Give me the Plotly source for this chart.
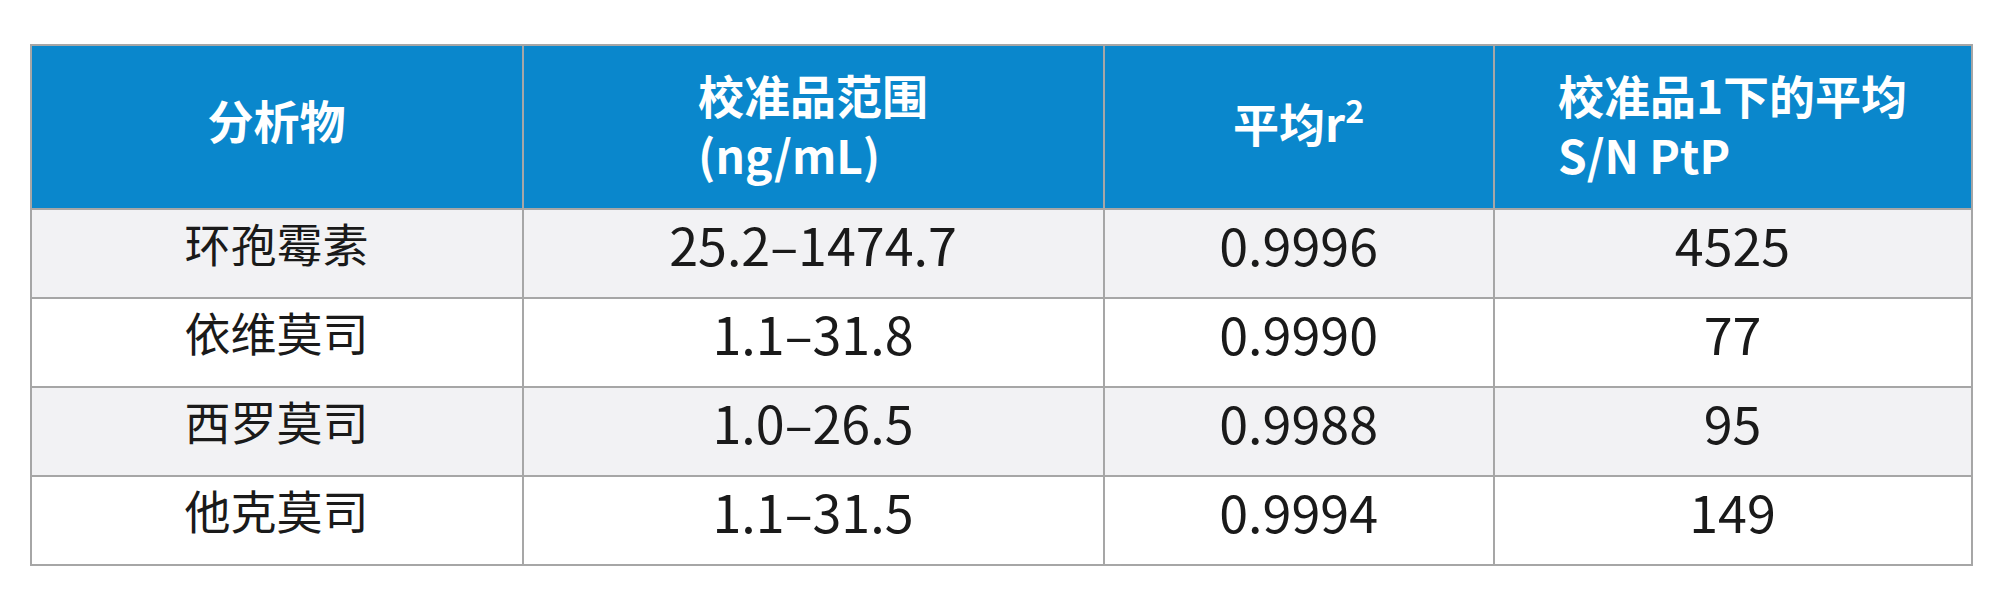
import plotly.graph_objects as go

headers = ["<b>分析物</b>", "<b>校准品范围<br>(ng/mL)</b>", "<b>平均r<sup>2</sup></b>", "<b>校准品1下的平均<br>S/N PtP</b>"]
analytes = ["环孢霉素", "依维莫司", "西罗莫司", "他克莫司"]
cal_range = ["25.2–1474.7", "1.1–31.8", "1.0–26.5", "1.1–31.5"]
mean_r2 = ["0.9996", "0.9990", "0.9988", "0.9994"]
mean_sn = ["4525", "77", "95", "149"]

columns = [analytes, cal_range, mean_r2, mean_sn]
row_fill = ["#f2f2f4", "#ffffff", "#f2f2f4", "#ffffff"]
font = "Noto Sans CJK SC"
W, H = 2000, 603
x0, x1, top = 23, 1964, 37
widths = [491, 581, 389, 478]
head_h, cell_h = 164, 89
cell_sizes = [46, 52, 52, 52]
head_shift = [33, 8, 33, 8]   # push header text down to centre it
cell_shift = 10               # push cell text down to centre it

fig = go.Figure()
# grid layer: fills and borders only
fig.add_trace(go.Table(
    columnwidth=widths,
    domain=dict(x=[x0 / W, x1 / W], y=[0, 1 - top / H]),
    header=dict(values=[""] * 4, fill_color="#0a87cc",
                line=dict(color="#a6a6a6", width=2), height=head_h),
    cells=dict(values=[[""] * 4] * 4, fill_color=[row_fill] * 4,
               line=dict(color="#a6a6a6", width=2), height=cell_h),
))

# text layer: one transparent table per column, shifted down to centre text
scale = (x1 - x0) / sum(widths)
left = x0
for i, col in enumerate(columns):
    right = left + widths[i] * scale
    hs = head_shift[i]
    fig.add_trace(go.Table(
        domain=dict(x=[left / W, right / W], y=[0, 1 - (top + hs) / H]),
        header=dict(values=[headers[i]], fill_color="rgba(0,0,0,0)",
                    line=dict(width=0, color="rgba(0,0,0,0)"),
                    font=dict(family=font, size=46, color="white"),
                    align="center", height=head_h - hs + cell_shift),
        cells=dict(values=[col], fill_color="rgba(0,0,0,0)",
                   line=dict(width=0, color="rgba(0,0,0,0)"),
                   font=dict(family=font, size=cell_sizes[i], color="#1a1a1a"),
                   align="center", height=cell_h),
    ))
    left = right

fig.update_layout(width=W, height=H, margin=dict(l=0, r=0, t=0, b=0),
                  paper_bgcolor="white")
fig.write_html("out.html")
